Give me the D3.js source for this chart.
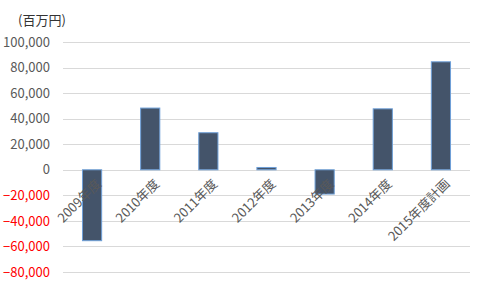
<!DOCTYPE html>
<html><head><meta charset="utf-8">
<script src="https://cdn.jsdelivr.net/npm/d3@7"></script>
<style>body{margin:0;background:#fff}svg{display:block}</style>
</head><body>
<svg id="c" width="480" height="288"></svg>
<script>
const categories = ["2009年度","2010年度","2011年度","2012年度","2013年度","2014年度","2015年度計画"];
const values = [-55500, 48300, 29000, 1800, -19000, 47700, 84500];
const tickValues = [-80000,-60000,-40000,-20000,0,20000,40000,60000,80000,100000];
const unitLabel = "(百万円)";

(function(){
const svg = d3.select("#c");
const mL = 63, mR = 470, mT = 42, mB = 272;
const font = "'Noto Sans CJK JP', 'Noto Sans', sans-serif";

const x = d3.scaleBand().domain(categories).range([mL, mR]).paddingInner(0.67).paddingOuter(0.335);
const y = d3.scaleLinear().domain([-80000, 100000]).range([mB, mT]);

svg.append("g").selectAll("line").data(tickValues).join("line")
  .attr("x1", mL).attr("x2", mR)
  .attr("y1", d => Math.round(y(d)) + 0.5).attr("y2", d => Math.round(y(d)) + 0.5)
  .attr("stroke", "#d9d9d9").attr("stroke-width", 1);

const yAxis = d3.axisLeft(y).tickValues(tickValues).tickSize(0).tickPadding(0)
  .tickFormat(d => d3.format(",")(d));
const ya = svg.append("g").attr("transform", "translate(50,0)").call(yAxis);
ya.select(".domain").remove();
ya.selectAll("text").attr("font-family", font).attr("font-size", 13)
  .attr("fill", d => d < 0 ? "#ff0000" : "#595959");

svg.append("g").selectAll("rect").data(values).join("rect")
  .attr("x", (d, i) => x(categories[i]))
  .attr("width", x.bandwidth())
  .attr("y", d => y(Math.max(0, d)))
  .attr("height", d => Math.abs(y(d) - y(0)))
  .attr("fill", "#44546a")
  .attr("stroke", "#6fa0d8").attr("stroke-width", 1);

svg.append("g").selectAll("text").data(categories).join("text")
  .attr("transform", d => `translate(${x(d) + x.bandwidth()/2 + 3},${y(0) + 8}) rotate(-45)`)
  .attr("text-anchor", "end").attr("dy", "0.75em")
  .attr("font-family", font).attr("font-size", 13).attr("fill", "#595959")
  .text(d => d);

svg.append("text").attr("x", 18).attr("y", 25)
  .attr("font-family", font).attr("font-size", 13).attr("fill", "#333")
  .text(unitLabel);
})();
</script>
</body></html>
